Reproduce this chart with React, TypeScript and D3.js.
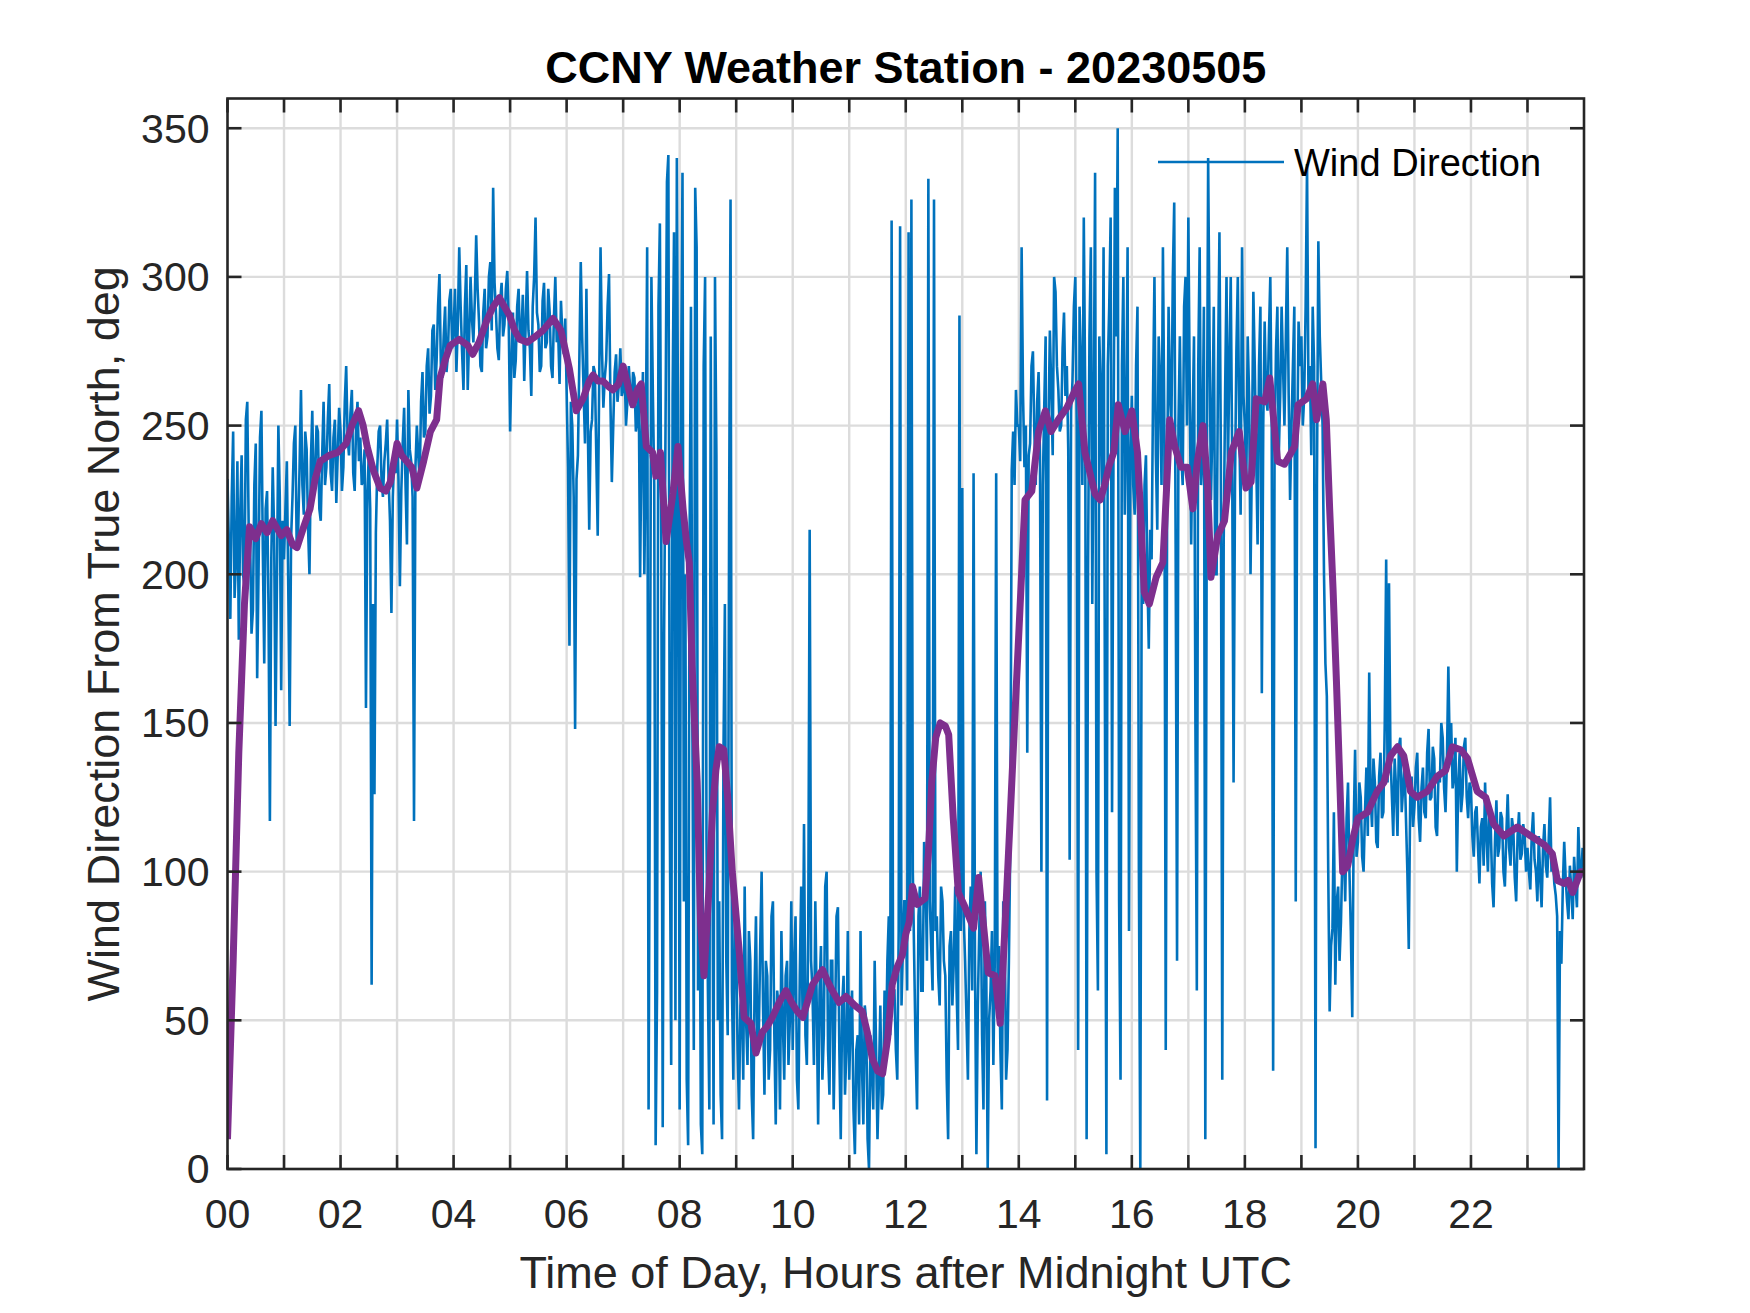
import React, {useEffect, useRef} from 'react';
import * as d3 from 'd3';

const width = 1750;
const height = 1313;
const margin = {top: 98.5, right: 166, bottom: 144, left: 227.5};

const title = 'CCNY Weather Station - 20230505';
const xAxisLabel = 'Time of Day, Hours after Midnight UTC';
const yAxisLabel = 'Wind Direction From True North, deg';
const legendLabel = 'Wind Direction';

// raw wind direction (deg), one reading every 1.5 minutes, one row per hour
const sampleStep = 0.025;
const windDirection = [
  232, 210, 185, 226, 248, 192, 205, 238, 178, 220, 240, 200, 196, 252, 258, 215, 212, 180, 188, 230, 244, 165, 202, 246, 255, 208, 170, 222, 228, 190, 117, 205, 236, 214, 149, 198, 250, 226, 161, 218,
  205, 222, 238, 196, 149, 212, 226, 244, 250, 208, 214, 236, 262, 230, 220, 248, 242, 216, 200, 238, 255, 226, 232, 250, 248, 222, 218, 240, 258, 230, 236, 252, 264, 234, 228, 246, 252, 224, 240, 256,
  248, 228, 236, 258, 270, 246, 240, 254, 262, 234, 228, 250, 258, 238, 246, 230, 232, 242, 155, 228, 240, 222, 62, 190, 126, 214, 236, 248, 250, 232, 226, 238, 244, 252, 232, 218, 187, 226, 240, 234,
  252, 232, 196, 228, 244, 256, 230, 210, 262, 242, 238, 226, 117, 236, 250, 240, 232, 258, 268, 246, 248, 270, 276, 254, 260, 282, 284, 262, 272, 290, 301, 270, 266, 280, 290, 268, 274, 292, 296, 276,
  282, 296, 268, 284, 310, 290, 275, 262, 290, 304, 262, 280, 300, 286, 278, 292, 314, 296, 285, 270, 268, 288, 296, 276, 280, 300, 305, 282, 330, 298, 288, 276, 272, 292, 298, 280, 284, 296, 302, 286,
  248, 272, 288, 266, 272, 290, 296, 278, 280, 294, 265, 284, 302, 282, 276, 260, 290, 300, 320, 288, 284, 268, 270, 292, 298, 276, 278, 296, 288, 270, 266, 286, 300, 278, 282, 264, 292, 280, 274, 286,
  262, 236, 176, 258, 250, 226, 148, 232, 240, 272, 305, 280, 262, 244, 296, 250, 215, 248, 252, 270, 268, 240, 213, 262, 310, 276, 256, 266, 272, 290, 301, 258, 231, 250, 268, 274, 258, 264, 276, 260,
  262, 270, 250, 258, 270, 262, 256, 268, 266, 248, 252, 264, 199, 246, 268, 200, 240, 310, 20, 150, 300, 262, 230, 8, 60, 290, 318, 210, 14, 180, 250, 332, 341, 120, 35, 260, 315, 50, 340, 230,
  20, 260, 335, 90, 200, 30, 8, 210, 290, 150, 40, 330, 310, 60, 120, 15, 5, 270, 300, 110, 60, 20, 280, 130, 15, 300, 240, 50, 90, 25, 10, 140, 190, 70, 45, 220, 326, 60, 30, 85,
  75, 40, 20, 55, 60, 30, 95, 50, 35, 80, 70, 25, 10, 60, 85, 40, 45, 75, 100, 55, 25, 70, 65, 30, 40, 85, 90, 45, 15, 60, 55, 20, 80, 50, 30, 65, 70, 35, 50, 90,
  40, 70, 85, 30, 20, 65, 95, 50, 116, 45, 35, 80, 215, 70, 60, 35, 90, 55, 15, 60, 75, 30, 45, 95, 100, 40, 25, 70, 70, 20, 50, 85, 88, 40, 10, 55, 65, 25, 40, 80,
  30, 50, 60, 20, 5, 40, 45, 15, 80, 35, 15, 55, 50, 10, 0, 45, 35, 20, 70, 40, 10, 30, 55, 20, 25, 60, 40, 70, 85, 45, 319, 60, 60, 40, 30, 80, 317, 55, 75, 90,
  90, 60, 315, 80, 326, 100, 70, 40, 20, 85, 95, 60, 60, 110, 100, 70, 333, 90, 75, 60, 326, 80, 85, 65, 55, 95, 90, 70, 65, 30, 10, 75, 80, 55, 70, 95, 60, 40, 287, 80,
  229, 85, 70, 50, 30, 80, 95, 60, 234, 70, 5, 55, 80, 100, 45, 20, 90, 65, 0, 50, 60, 80, 35, 70, 234, 55, 75, 40, 20, 90, 85, 30, 40, 70, 110, 235, 248, 230, 262, 250,
  250, 238, 310, 260, 236, 250, 140, 240, 244, 270, 275, 248, 230, 258, 268, 240, 100, 230, 256, 280, 23, 250, 282, 262, 240, 300, 295, 270, 262, 248, 250, 276, 288, 260, 270, 242, 104, 255, 265, 290,
  300, 250, 40, 290, 270, 230, 320, 260, 10, 200, 280, 310, 190, 250, 335, 100, 60, 280, 260, 230, 310, 150, 5, 270, 290, 320, 120, 240, 330, 280, 350, 90, 30, 270, 300, 220, 250, 310, 80, 240,
  260, 230, 220, 270, 290, 100, 0, 210, 190, 230, 240, 200, 175, 215, 205, 260, 300, 240, 215, 280, 265, 230, 310, 250, 40, 230, 290, 260, 250, 300, 325, 210, 70, 250, 280, 240, 230, 290, 300, 250,
  320, 260, 210, 250, 280, 150, 60, 270, 310, 230, 240, 290, 10, 220, 340, 280, 225, 250, 290, 200, 200, 270, 315, 240, 30, 210, 260, 300, 235, 270, 300, 240, 130, 230, 275, 300, 250, 220, 310, 260,
  250, 230, 280, 260, 200, 240, 295, 270, 240, 210, 270, 290, 160, 250, 285, 260, 255, 280, 300, 250, 33, 240, 275, 290, 240, 260, 290, 270, 250, 280, 310, 260, 225, 250, 270, 290, 90, 240, 285, 270,
  280, 250, 260, 290, 338, 260, 270, 240, 290, 270, 7, 230, 312, 280, 265, 250, 200, 170, 159, 100, 53, 75, 81, 120, 62, 90, 95, 70, 83, 105, 111, 90, 118, 130, 100, 80, 51, 115, 141, 105,
  110, 130, 125, 105, 100, 120, 135, 112, 167, 125, 115, 138, 130, 110, 108, 132, 140, 118, 120, 150, 205, 130, 197, 140, 126, 112, 138, 128, 112, 142, 145, 120, 128, 136, 118, 100, 74, 125, 132, 115,
  122, 135, 140, 118, 110, 128, 135, 120, 118, 140, 148, 124, 125, 142, 138, 115, 112, 132, 130, 150, 145, 128, 120, 138, 169, 140, 150, 128, 132, 145, 100, 130, 140, 120, 126, 142, 145, 125, 118, 130,
  128, 112, 105, 120, 122, 108, 96, 115, 118, 102, 130, 112, 100, 122, 115, 96, 88, 110, 124, 105, 108, 120, 118, 100, 95, 112, 126, 108, 102, 118, 114, 98, 90, 112, 120, 104, 106, 116, 112, 100,
  108, 100, 94, 112, 120, 104, 100, 90, 112, 98, 88, 108, 116, 102, 98, 110, 125, 100, 104, 96, 92, 85, 0, 80, 69, 95, 110, 98, 90, 84, 102, 94, 84, 105, 96, 88, 115, 100, 98, 108,
];

// running mean
const avgHours = [
  0, 0.1, 0.2, 0.3, 0.39, 0.5, 0.6, 0.7, 0.8, 0.95, 1.05, 1.15, 1.23, 1.35, 1.46, 1.55, 1.64, 1.8, 1.95,
  2.1, 2.2, 2.32, 2.4, 2.47, 2.58, 2.7, 2.8, 2.88, 3.0, 3.08, 3.17, 3.26, 3.35, 3.47, 3.59, 3.7, 3.76,
  3.85, 3.94, 4.1, 4.25, 4.34, 4.45, 4.58, 4.7, 4.81, 4.9, 4.99, 5.08, 5.17, 5.3, 5.45, 5.58, 5.76, 5.9,
  6.05, 6.17, 6.29, 6.4, 6.47, 6.55, 6.64, 6.75, 6.82, 6.92, 7.0, 7.1, 7.17, 7.25, 7.32, 7.41, 7.52,
  7.58, 7.66, 7.76, 7.88, 7.97, 8.06, 8.12, 8.17, 8.22, 8.31, 8.37, 8.43, 8.52, 8.58, 8.64, 8.7, 8.78,
  8.85, 8.93, 9.05, 9.14, 9.26, 9.35, 9.46, 9.55, 9.64, 9.76, 9.88, 9.98, 10.08, 10.18, 10.35, 10.53,
  10.62, 10.7, 10.82, 10.94, 11.1, 11.23, 11.32, 11.41, 11.5, 11.59, 11.68, 11.76, 11.85, 11.94, 12.0,
  12.06, 12.12, 12.2, 12.34, 12.4, 12.46, 12.53, 12.61, 12.7, 12.76, 12.84, 12.93, 13.05, 13.2, 13.29,
  13.37, 13.46, 13.58, 13.67, 13.76, 13.84, 13.91, 14.02, 14.11, 14.23, 14.35, 14.47, 14.57, 14.7,
  14.85, 15.0, 15.06, 15.17, 15.35, 15.44, 15.52, 15.59, 15.68, 15.76, 15.88, 16.0, 16.1, 16.16, 16.22,
  16.31, 16.43, 16.55, 16.61, 16.67, 16.76, 16.87, 16.98, 17.08, 17.16, 17.26, 17.34, 17.4, 17.52,
  17.64, 17.76, 17.9, 18.02, 18.11, 18.2, 18.35, 18.44, 18.52, 18.58, 18.7, 18.88, 18.94, 19.09, 19.2,
  19.27, 19.38, 19.44, 19.5, 19.56, 19.62, 19.68, 19.73, 19.82, 19.91, 20.0, 20.17, 20.34, 20.46,
  20.58, 20.7, 20.81, 20.93, 21.05, 21.23, 21.4, 21.55, 21.67, 21.82, 21.94, 22.11, 22.26, 22.4,
  22.58, 22.82, 23.06, 23.3, 23.44, 23.53, 23.65, 23.72, 23.8, 23.94, 24.0,
];
const avgDirection = [
  10, 70, 140, 190, 216, 212, 217, 214, 218, 213, 215, 210, 209, 216, 222, 232, 238, 240, 241,
  244, 250, 255, 250, 243, 235, 229, 228, 231, 244, 240, 238, 236, 229, 238, 248, 252, 266,
  272, 277, 279, 277, 274, 278, 285, 290, 293, 290, 287, 282, 279, 278, 280, 282, 286, 282,
  269, 255, 259, 265, 267, 265, 265, 263, 262, 264, 270, 262, 257, 262, 264, 243, 241,
  233, 241, 211, 227, 243, 222, 211, 204, 169, 130, 83, 65, 95, 120, 134, 142, 141,
  125, 100, 74, 51, 49, 39, 46, 48, 51, 56, 60, 56, 53, 51, 62, 67,
  63, 60, 56, 58, 55, 53, 46, 37, 33, 32, 44, 62, 68, 72, 79,
  83, 95, 89, 91, 106, 130, 145, 150, 149, 146, 118, 93, 88, 81, 98,
  83, 66, 65, 49, 83, 115, 144, 188, 225, 228, 248, 255, 248, 252,
  256, 262, 264, 241, 227, 225, 230, 236, 241, 257, 248, 255, 241, 218, 194,
  190, 199, 204, 227, 252, 243, 236, 236, 222, 238, 250, 230, 199, 213,
  218, 241, 248, 229, 231, 259, 258, 266, 250, 238, 237, 243, 257, 259, 264,
  252, 264, 252, 222, 195, 164, 130, 100, 102, 111, 118, 120, 127, 130,
  139, 142, 139, 127, 125, 127, 132, 134, 142, 141, 138, 127, 125, 116,
  112, 115, 112, 109, 106, 97, 96, 97, 93, 100, 100,
];

const xTickHours = [0, 1, 2, 3, 4, 5, 6, 7, 8, 9, 10, 11, 12, 13, 14, 15, 16, 17, 18, 19, 20, 21, 22, 23];
const xTickLabels = ['00', '', '02', '', '04', '', '06', '', '08', '', '10', '', '12', '', '14', '', '16', '', '18', '', '20', '', '22', ''];
const yTicks = [0, 50, 100, 150, 200, 250, 300, 350];

const fontFamily = '"Liberation Sans", Arial, Helvetica, sans-serif';
const axisColor = '#262626';
const gridColor = '#dcdcdc';
const rawColor = '#0072bd';
const avgColor = '#7e2f8e';

const App: React.FC = () => {
  const svgRef = useRef<SVGSVGElement | null>(null);

  useEffect(() => {
    if (!svgRef.current) return;
    const innerWidth = width - margin.left - margin.right;
    const innerHeight = height - margin.top - margin.bottom;

    const svg = d3.select(svgRef.current);
    svg.selectAll('*').remove();

    const x = d3.scaleLinear().domain([0, 24]).range([0, innerWidth]);
    const y = d3.scaleLinear().domain([0, 360]).range([innerHeight, 0]);

    svg.append('rect').attr('width', width).attr('height', height).attr('fill', '#fff');

    const g = svg.append('g').attr('transform', `translate(${margin.left},${margin.top})`);

    // grid
    g.append('g')
      .selectAll('line')
      .data(xTickHours.filter((h) => h > 0))
      .enter()
      .append('line')
      .attr('x1', (d) => x(d))
      .attr('x2', (d) => x(d))
      .attr('y1', 0)
      .attr('y2', innerHeight)
      .attr('stroke', gridColor)
      .attr('stroke-width', 2.4);
    g.append('g')
      .selectAll('line')
      .data(yTicks.filter((v) => v > 0))
      .enter()
      .append('line')
      .attr('x1', 0)
      .attr('x2', innerWidth)
      .attr('y1', (d) => y(d))
      .attr('y2', (d) => y(d))
      .attr('stroke', gridColor)
      .attr('stroke-width', 2.4);

    g.append('clipPath')
      .attr('id', 'plot-clip')
      .append('rect')
      .attr('width', innerWidth)
      .attr('height', innerHeight);

    const plot = g.append('g').attr('clip-path', 'url(#plot-clip)');

    const rawLine = d3
      .line<number>()
      .x((_d, i) => x(i * sampleStep))
      .y((d) => y(d));
    plot
      .append('path')
      .datum(windDirection)
      .attr('d', rawLine)
      .attr('fill', 'none')
      .attr('stroke', rawColor)
      .attr('stroke-width', 2.6)
      .attr('stroke-linejoin', 'miter')
      .attr('stroke-miterlimit', 2);

    const avgLine = d3
      .line<number>()
      .x((_d, i) => x(avgHours[i]))
      .y((d) => y(d));
    plot
      .append('path')
      .datum(avgDirection)
      .attr('d', avgLine)
      .attr('fill', 'none')
      .attr('stroke', avgColor)
      .attr('stroke-width', 7)
      .attr('stroke-linejoin', 'round');

    // box and ticks
    const tickLen = 14;
    g.append('rect')
      .attr('width', innerWidth)
      .attr('height', innerHeight)
      .attr('fill', 'none')
      .attr('stroke', axisColor)
      .attr('stroke-width', 2.6);

    const ticks = g.append('g').attr('stroke', axisColor).attr('stroke-width', 2.6);
    xTickHours.forEach((h) => {
      ticks.append('line').attr('x1', x(h)).attr('x2', x(h)).attr('y1', innerHeight).attr('y2', innerHeight - tickLen);
      ticks.append('line').attr('x1', x(h)).attr('x2', x(h)).attr('y1', 0).attr('y2', tickLen);
    });
    yTicks.forEach((v) => {
      ticks.append('line').attr('x1', 0).attr('x2', tickLen).attr('y1', y(v)).attr('y2', y(v));
      ticks.append('line').attr('x1', innerWidth).attr('x2', innerWidth - tickLen).attr('y1', y(v)).attr('y2', y(v));
    });

    g.append('g')
      .selectAll('text')
      .data(xTickHours)
      .enter()
      .append('text')
      .attr('x', (d) => x(d))
      .attr('y', innerHeight + 59)
      .attr('text-anchor', 'middle')
      .style('font-family', fontFamily)
      .style('font-size', '41px')
      .style('fill', axisColor)
      .text((_d, i) => xTickLabels[i]);

    g.append('g')
      .selectAll('text')
      .data(yTicks)
      .enter()
      .append('text')
      .attr('x', -18)
      .attr('y', (d) => y(d))
      .attr('dy', '0.35em')
      .attr('text-anchor', 'end')
      .style('font-family', fontFamily)
      .style('font-size', '41px')
      .style('fill', axisColor)
      .text((d) => String(d));

    // labels
    svg
      .append('text')
      .attr('x', margin.left + innerWidth / 2)
      .attr('y', 83)
      .attr('text-anchor', 'middle')
      .style('font-family', fontFamily)
      .style('font-size', '45px')
      .style('font-weight', 'bold')
      .style('fill', '#000')
      .text(title);

    svg
      .append('text')
      .attr('x', margin.left + innerWidth / 2)
      .attr('y', 1288)
      .attr('text-anchor', 'middle')
      .style('font-family', fontFamily)
      .style('font-size', '45px')
      .style('fill', axisColor)
      .text(xAxisLabel);

    svg
      .append('text')
      .attr('transform', `translate(119,${margin.top + innerHeight / 2}) rotate(-90)`)
      .attr('text-anchor', 'middle')
      .style('font-family', fontFamily)
      .style('font-size', '45px')
      .style('fill', axisColor)
      .text(yAxisLabel);

    // legend, no box
    const legend = svg.append('g');
    legend
      .append('line')
      .attr('x1', 1158)
      .attr('x2', 1284)
      .attr('y1', 162)
      .attr('y2', 162)
      .attr('stroke', rawColor)
      .attr('stroke-width', 2.6);
    legend
      .append('text')
      .attr('x', 1294)
      .attr('y', 176)
      .style('font-family', fontFamily)
      .style('font-size', '38px')
      .style('fill', '#000')
      .text(legendLabel);
  }, []);

  return (
    <svg
      ref={svgRef}
      width={width}
      height={height}
      style={{position: 'absolute', left: 0, top: 0, display: 'block'}}
    />
  );
};

export default App;
